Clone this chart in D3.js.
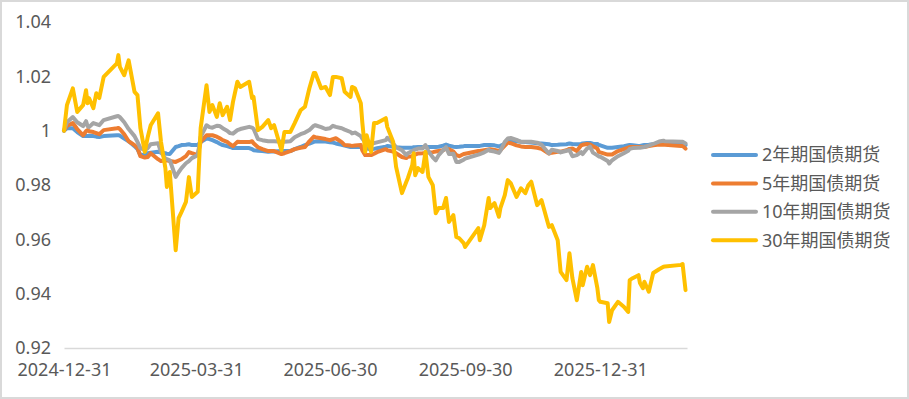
<!DOCTYPE html>
<html>
<head>
<meta charset="utf-8">
<script src="https://cdn.jsdelivr.net/npm/d3@7"></script>
<style>
  html, body { margin: 0; padding: 0; background: #fff; }
  svg text { font-family: "Noto Sans", "Noto Sans CJK SC", sans-serif; fill: #595959; }
</style>
</head>
<body>
<script>
// trading days
var dates = [
  "2024-12-31","2025-01-02","2025-01-06","2025-01-09","2025-01-13","2025-01-15","2025-01-16","2025-01-17","2025-01-20","2025-01-22",
  "2025-01-24","2025-01-27","2025-02-05","2025-02-06","2025-02-07","2025-02-10","2025-02-13","2025-02-17","2025-02-19","2025-02-21",
  "2025-02-24","2025-02-26","2025-02-28","2025-03-05","2025-03-07","2025-03-10","2025-03-11","2025-03-13","2025-03-17","2025-03-19",
  "2025-03-21","2025-03-24","2025-03-26","2025-03-28","2025-04-01","2025-04-03","2025-04-07","2025-04-09","2025-04-11","2025-04-14",
  "2025-04-16","2025-04-18","2025-04-21","2025-04-23","2025-04-25","2025-04-28","2025-04-30","2025-05-06","2025-05-08","2025-05-09",
  "2025-05-12","2025-05-15","2025-05-19","2025-05-21","2025-05-23","2025-05-28","2025-05-30","2025-06-03","2025-06-06","2025-06-10",
  "2025-06-13","2025-06-16","2025-06-19","2025-06-20","2025-06-24","2025-06-27","2025-06-30","2025-07-02","2025-07-04","2025-07-08",
  "2025-07-10","2025-07-14","2025-07-15","2025-07-17","2025-07-21","2025-07-22","2025-07-24","2025-07-25","2025-07-28","2025-07-30",
  "2025-08-01","2025-08-07","2025-08-08","2025-08-12","2025-08-14","2025-08-18","2025-08-21","2025-08-22","2025-08-25","2025-08-26",
  "2025-08-27","2025-08-29","2025-09-01","2025-09-03","2025-09-05","2025-09-08","2025-09-10","2025-09-12","2025-09-15","2025-09-17",
  "2025-09-19","2025-09-22","2025-09-24","2025-09-26","2025-09-29","2025-09-30","2025-10-09","2025-10-10","2025-10-13","2025-10-16",
  "2025-10-17","2025-10-20","2025-10-23","2025-10-24","2025-10-27","2025-10-29","2025-10-31","2025-11-04","2025-11-07","2025-11-10",
  "2025-11-12","2025-11-14","2025-11-18","2025-11-21","2025-11-26","2025-11-28","2025-12-02","2025-12-04","2025-12-08","2025-12-10",
  "2025-12-12","2025-12-15","2025-12-18","2025-12-19","2025-12-22","2025-12-24","2025-12-26","2025-12-29","2025-12-30","2025-12-31",
  "2026-01-05","2026-01-06","2026-01-08","2026-01-12","2026-01-16","2026-01-19","2026-01-20","2026-01-22","2026-01-26","2026-01-27",
  "2026-01-29","2026-01-30","2026-02-02","2026-02-05","2026-02-09","2026-02-12","2026-02-13","2026-02-24","2026-02-25","2026-02-27"
];

var s2y = [
  1.0000,1.0009,1.0009,0.9995,0.9980,0.9980,0.9980,0.9981,0.9980,0.9978,
  0.9977,0.9980,0.9983,0.9983,0.9982,0.9971,0.9961,0.9943,0.9932,0.9910,
  0.9912,0.9917,0.9919,0.9922,0.9919,0.9917,0.9915,0.9914,0.9940,0.9943,
  0.9947,0.9948,0.9950,0.9947,0.9947,0.9958,0.9971,0.9969,0.9965,0.9958,
  0.9952,0.9947,0.9943,0.9940,0.9936,0.9936,0.9936,0.9936,0.9932,0.9928,
  0.9926,0.9925,0.9922,0.9923,0.9923,0.9925,0.9925,0.9925,0.9932,0.9940,
  0.9947,0.9952,0.9959,0.9960,0.9961,0.9960,0.9957,0.9956,0.9953,0.9948,
  0.9945,0.9940,0.9940,0.9940,0.9940,0.9937,0.9936,0.9934,0.9932,0.9933,
  0.9935,0.9941,0.9944,0.9941,0.9939,0.9937,0.9937,0.9937,0.9937,0.9939,
  0.9939,0.9940,0.9940,0.9940,0.9940,0.9940,0.9940,0.9941,0.9945,0.9949,
  0.9945,0.9941,0.9940,0.9941,0.9943,0.9944,0.9944,0.9944,0.9947,0.9947,
  0.9947,0.9946,0.9942,0.9944,0.9952,0.9958,0.9965,0.9961,0.9959,0.9958,
  0.9957,0.9956,0.9954,0.9953,0.9950,0.9947,0.9948,0.9949,0.9950,0.9953,
  0.9951,0.9950,0.9951,0.9953,0.9955,0.9955,0.9952,0.9951,0.9947,0.9946,
  0.9937,0.9937,0.9937,0.9940,0.9943,0.9946,0.9947,0.9946,0.9944,0.9944,
  0.9946,0.9947,0.9948,0.9950,0.9953,0.9954,0.9955,0.9953,0.9953,0.9947
];

var s5y = [
  1.0000,1.0017,1.0028,1.0006,0.9983,0.9998,1.0002,0.9998,0.9995,0.9991,
  0.9987,1.0002,1.0009,1.0010,1.0006,0.9987,0.9961,0.9947,0.9936,0.9906,
  0.9901,0.9903,0.9917,0.9895,0.9888,0.9890,0.9891,0.9888,0.9885,0.9890,
  0.9895,0.9906,0.9921,0.9917,0.9910,0.9959,0.9983,0.9983,0.9983,0.9978,
  0.9972,0.9965,0.9959,0.9950,0.9943,0.9959,0.9958,0.9958,0.9961,0.9954,
  0.9939,0.9932,0.9925,0.9925,0.9925,0.9914,0.9917,0.9925,0.9932,0.9937,
  0.9940,0.9961,0.9978,0.9976,0.9972,0.9969,0.9965,0.9969,0.9972,0.9958,
  0.9947,0.9945,0.9944,0.9945,0.9947,0.9928,0.9910,0.9910,0.9910,0.9915,
  0.9921,0.9932,0.9928,0.9923,0.9917,0.9903,0.9899,0.9904,0.9906,0.9910,
  0.9912,0.9916,0.9917,0.9918,0.9920,0.9921,0.9923,0.9925,0.9928,0.9934,
  0.9932,0.9923,0.9910,0.9906,0.9914,0.9915,0.9925,0.9925,0.9928,0.9931,
  0.9932,0.9929,0.9925,0.9928,0.9945,0.9956,0.9954,0.9946,0.9942,0.9940,
  0.9940,0.9940,0.9937,0.9933,0.9916,0.9919,0.9922,0.9923,0.9928,0.9933,
  0.9934,0.9925,0.9946,0.9948,0.9951,0.9949,0.9943,0.9934,0.9922,0.9920,
  0.9912,0.9912,0.9912,0.9925,0.9932,0.9937,0.9940,0.9940,0.9940,0.9940,
  0.9940,0.9940,0.9943,0.9946,0.9949,0.9948,0.9948,0.9944,0.9944,0.9934
];

var s10y = [
  1.0000,1.0031,1.0050,1.0031,1.0017,1.0035,1.0017,1.0013,1.0028,1.0024,
  1.0020,1.0039,1.0053,1.0054,1.0050,1.0031,1.0006,0.9980,0.9959,0.9936,
  0.9928,0.9936,0.9950,0.9954,0.9921,0.9897,0.9895,0.9891,0.9830,0.9847,
  0.9862,0.9880,0.9888,0.9899,0.9910,0.9977,1.0020,1.0013,1.0011,1.0018,
  1.0017,1.0009,1.0000,0.9991,0.9989,1.0002,1.0006,1.0014,1.0011,1.0007,
  0.9969,0.9965,0.9961,0.9961,0.9961,0.9959,0.9959,0.9961,0.9976,0.9987,
  0.9993,1.0002,1.0018,1.0020,1.0013,1.0006,1.0009,1.0018,1.0014,1.0009,
  1.0004,0.9995,0.9990,0.9993,0.9980,0.9971,0.9959,0.9956,0.9953,0.9954,
  0.9957,0.9965,0.9974,0.9953,0.9939,0.9928,0.9910,0.9917,0.9925,0.9928,
  0.9930,0.9934,0.9934,0.9947,0.9925,0.9902,0.9891,0.9910,0.9928,0.9939,
  0.9914,0.9915,0.9885,0.9885,0.9893,0.9897,0.9912,0.9914,0.9920,0.9930,
  0.9926,0.9923,0.9918,0.9926,0.9959,0.9971,0.9973,0.9966,0.9959,0.9959,
  0.9959,0.9959,0.9956,0.9948,0.9916,0.9930,0.9925,0.9920,0.9926,0.9928,
  0.9906,0.9910,0.9921,0.9914,0.9934,0.9941,0.9919,0.9909,0.9905,0.9904,
  0.9888,0.9879,0.9891,0.9906,0.9917,0.9926,0.9933,0.9936,0.9937,0.9937,
  0.9939,0.9940,0.9945,0.9951,0.9960,0.9963,0.9961,0.9959,0.9959,0.9953
];

var s30y = [
  1.0000,1.0094,1.0156,1.0069,1.0094,1.0149,1.0101,1.0120,1.0083,1.0138,
  1.0120,1.0198,1.0248,1.0278,1.0235,1.0204,1.0259,1.0143,1.0131,1.0009,
  0.9922,0.9977,1.0020,1.0064,0.9959,0.9862,0.9793,0.9848,0.9560,0.9678,
  0.9701,0.9738,0.9829,0.9756,0.9775,1.0009,1.0167,1.0069,1.0094,1.0051,
  1.0101,1.0057,1.0088,1.0039,1.0106,1.0180,1.0161,1.0180,1.0120,1.0124,
  1.0002,1.0014,1.0039,1.0009,1.0020,0.9928,0.9995,0.9995,1.0028,1.0075,
  1.0088,1.0156,1.0212,1.0212,1.0156,1.0161,1.0131,1.0198,1.0198,1.0193,
  1.0143,1.0124,1.0161,1.0156,1.0101,1.0032,0.9922,0.9983,0.9922,1.0028,
  1.0028,1.0046,1.0014,0.9959,0.9867,0.9770,0.9812,0.9825,0.9873,0.9917,
  0.9836,0.9862,0.9848,0.9922,0.9830,0.9799,0.9696,0.9715,0.9715,0.9752,
  0.9664,0.9689,0.9609,0.9604,0.9586,0.9572,0.9641,0.9597,0.9652,0.9752,
  0.9715,0.9733,0.9683,0.9715,0.9763,0.9818,0.9807,0.9756,0.9788,0.9770,
  0.9799,0.9812,0.9726,0.9744,0.9646,0.9652,0.9597,0.9480,0.9450,0.9549,
  0.9457,0.9376,0.9480,0.9431,0.9499,0.9468,0.9505,0.9420,0.9376,0.9370,
  0.9365,0.9296,0.9339,0.9370,0.9352,0.9333,0.9450,0.9457,0.9468,0.9439,
  0.9420,0.9444,0.9407,0.9476,0.9490,0.9499,0.9500,0.9506,0.9509,0.9413
];

var seriesNames = ["2年期国债期货", "5年期国债期货", "10年期国债期货", "30年期国债期货"];
var xTickLabels = ["2024-12-31", "2025-03-31", "2025-06-30", "2025-09-30", "2025-12-31"];
var yTicks = [0.92, 0.94, 0.96, 0.98, 1.00, 1.02, 1.04];

var colors = ["#5B9BD5", "#ED7D31", "#A5A5A5", "#FFC000"];

var W = 909, H = 399;
var parse = d3.timeParse("%Y-%m-%d");
var dt = dates.map(parse);

var svg = d3.select("body").append("svg")
  .attr("width", W)
  .attr("height", H);

svg.append("rect")
  .attr("x", 1).attr("y", 1)
  .attr("width", W - 2).attr("height", H - 2)
  .attr("fill", "#fff")
  .attr("stroke", "#d9d9d9")
  .attr("stroke-width", 2);

var x = d3.scaleTime()
  .domain([dt[0], d3.timeDay.offset(dt[dt.length - 1], 1)])
  .range([64, 687]);

var y = d3.scaleLinear()
  .domain([0.92, 1.04])
  .range([348, 22]);

// x axis
var xAxis = svg.append("g")
  .attr("transform", "translate(0,348)")
  .call(d3.axisBottom(x)
    .tickValues(xTickLabels.map(parse))
    .tickFormat(d3.timeFormat("%Y-%m-%d"))
    .tickSize(0)
    .tickSizeOuter(0)
    .tickPadding(15));
xAxis.select(".domain").attr("stroke", "#d9d9d9").attr("stroke-width", 1.5);
xAxis.selectAll("text").attr("font-size", 18).attr("fill", "#595959");

// y axis
var yAxis = svg.append("g")
  .attr("transform", "translate(64,0)")
  .call(d3.axisLeft(y)
    .tickValues(yTicks)
    .tickFormat(d => String(+d.toFixed(2)))
    .tickSize(0)
    .tickPadding(13));
yAxis.select(".domain").remove();
yAxis.selectAll("text").attr("font-size", 18).attr("fill", "#595959");

var allSeries = [s2y, s5y, s10y, s30y];

var line = d3.line()
  .x((d, i) => x(dt[i]))
  .y(d => y(d));

svg.selectAll("path.series").data(allSeries)
  .enter().append("path")
  .attr("class", "series")
  .attr("d", d => line(d))
  .attr("fill", "none")
  .attr("stroke", (d, i) => colors[i])
  .attr("stroke-width", 4)
  .attr("stroke-linejoin", "round")
  .attr("stroke-linecap", "round");

// legend
var leg = svg.selectAll("g.legend").data(seriesNames)
  .enter().append("g")
  .attr("class", "legend")
  .attr("transform", (d, i) => `translate(713, ${155 + i * 28.4})`);

leg.append("line")
  .attr("x1", 0).attr("x2", 43)
  .attr("y1", 0).attr("y2", 0)
  .attr("stroke", (d, i) => colors[i])
  .attr("stroke-width", 4)
  .attr("stroke-linecap", "round");

leg.append("text")
  .attr("x", 49)
  .attr("y", 0)
  .attr("dy", "0.35em")
  .attr("font-size", 18)
  .text(d => d);
</script>
</body>
</html>
